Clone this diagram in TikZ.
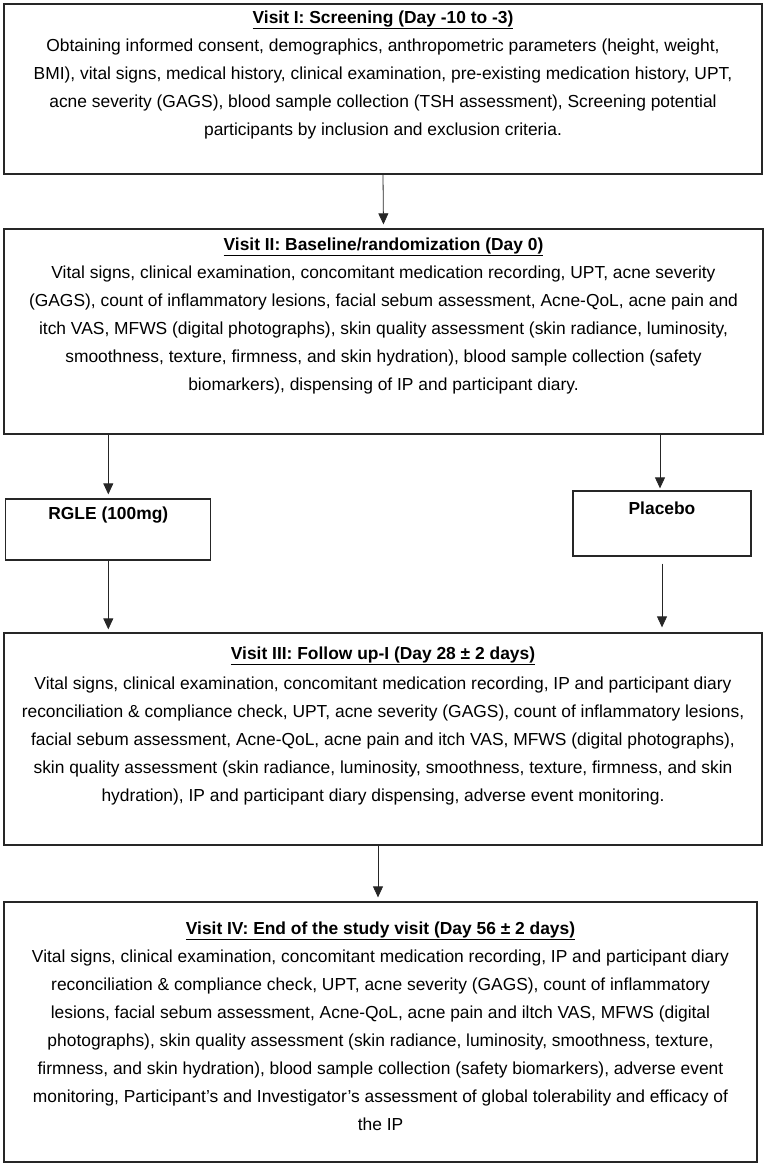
\documentclass[tikz,border=0pt]{standalone}
\usepackage{fontspec}
\setmainfont{Liberation Sans}
\usetikzlibrary{arrows.meta}
\begin{document}
\begin{tikzpicture}[x=1pt,y=-1pt,
  box/.style={draw=black!85, line width=1.3pt, inner sep=0pt},
  txt/.style={align=center, inner sep=0pt, anchor=north, font=\fontsize{17.4}{28}\selectfont},
  conn/.style={-{Triangle[width=10pt,length=11pt]}, line width=0.8pt, draw=black!85}
]
\useasboundingbox (0,0) rectangle (768,1167);
% boxes
\node[box, minimum width=758pt, minimum height=170pt] (b1) at (383,89) {};
\node[box, minimum width=759pt, minimum height=205pt] (b2) at (383.5,331.5) {};
\node[box, minimum width=205pt, minimum height=61pt] (r) at (108.3,529.5) {};
\node[box, minimum width=178pt, minimum height=65pt] (p) at (662,523.5) {};
\node[box, minimum width=758pt, minimum height=212pt] (b3) at (383,739) {};
\node[box, minimum width=753pt, minimum height=260pt] (b4) at (380.5,1032) {};
% texts
\node[txt] (t1) at ([yshift=-7pt]b1.north) {\textbf{\underline{Visit I: Screening (Day -10 to -3)}}\\
Obtaining informed consent, demographics, anthropometric parameters (height, weight,\\
BMI), vital signs, medical history, clinical examination, pre-existing medication history, UPT,\\
acne severity (GAGS), blood sample collection (TSH assessment), Screening potential\\
participants by inclusion and exclusion criteria.};
\node[txt] (t2) at ([yshift=-9pt]b2.north) {\textbf{\underline{Visit II: Baseline/randomization (Day 0)}}\\
Vital signs, clinical examination, concomitant medication recording, UPT, acne severity\\
(GAGS), count of inflammatory lesions, facial sebum assessment, Acne-QoL, acne pain and\\
itch VAS, MFWS (digital photographs), skin quality assessment (skin radiance, luminosity,\\
smoothness, texture, firmness, and skin hydration), blood sample collection (safety\\
biomarkers), dispensing of IP and participant diary.};
\node[txt] (tr) at ([yshift=-8pt]r.north) {\textbf{RGLE (100mg)}};
\node[txt] (tp) at ([yshift=-11pt]p.north) {\textbf{Placebo}};
\node[txt] (t3) at ([yshift=-14pt]b3.north) {\textbf{\underline{Visit III: Follow up-I (Day 28 ± 2 days)}}\\[2pt]
Vital signs, clinical examination, concomitant medication recording, IP and participant diary\\
reconciliation \& compliance check, UPT, acne severity (GAGS), count of inflammatory lesions,\\
facial sebum assessment, Acne-QoL, acne pain and itch VAS, MFWS (digital photographs),\\
skin quality assessment (skin radiance, luminosity, smoothness, texture, firmness, and skin\\
hydration), IP and participant diary dispensing, adverse event monitoring.};
\node[txt] (t4) at ([yshift=-20pt]b4.north) {\textbf{\underline{Visit IV: End of the study visit (Day 56 ± 2 days)}}\\
Vital signs, clinical examination, concomitant medication recording, IP and participant diary\\
reconciliation \& compliance check, UPT, acne severity (GAGS), count of inflammatory\\
lesions, facial sebum assessment, Acne-QoL, acne pain and iltch VAS, MFWS (digital\\
photographs), skin quality assessment (skin radiance, luminosity, smoothness, texture,\\
firmness, and skin hydration), blood sample collection (safety biomarkers), adverse event\\
monitoring, Participant’s and Investigator’s assessment of global tolerability and efficacy of\\
the IP};
% connectors
\draw[conn, shorten >=4pt] (b1.south) -- (b2.north);
\draw[conn, shorten >=4pt] (b2.south -| r.north) -- (r.north);
\draw[conn, shorten >=2pt] ([xshift=-2pt]b2.south -| p.north) -- ([xshift=-2pt]p.north);
\draw[conn, shorten >=3pt] (r.south) -- (r.south |- b3.north);
\draw[conn, shorten <=7pt, shorten >=5pt] (p.south) -- (p.south |- b3.north);
\draw[conn, shorten >=4pt] ([xshift=-5pt]b3.south) -- ([xshift=-5pt]b3.south |- b4.north);
\end{tikzpicture}
\end{document}
